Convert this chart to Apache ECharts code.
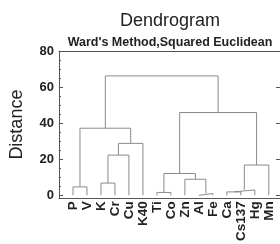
<!DOCTYPE html>
<html>
<head>
<meta charset="utf-8">
<script src="https://cdn.jsdelivr.net/npm/echarts@6/dist/echarts.min.js"></script>
<style>
  html, body { margin: 0; padding: 0; background: #fff; }
  #chart { width: 280px; height: 244px; }
</style>
</head>
<body>
<div id="chart"></div>
<script>
// leaves, left to right
const leaves = ['P', 'V', 'K', 'Cr', 'Cu', 'K40', 'Ti', 'Co', 'Zn', 'Al', 'Fe', 'Ca', 'Cs137', 'Hg', 'Mn']

// linkage: ids < 15 are leaves, 15+ are the merges below (in order)
const mergeLeft = [0, 2, 16, 17, 15, 6, 9, 8, 20, 11, 24, 25, 23, 19]
const mergeRight = [1, 3, 4, 5, 18, 7, 10, 21, 22, 12, 13, 14, 26, 27]
const mergeHeight = [4.7, 6.8, 22.3, 28.8, 37.2, 1.6, 1.05, 8.9, 12.1, 1.9, 3.0, 16.8, 45.9, 66.2]

const yTicks = [0, 20, 40, 60, 80]
const yMinorTicks = [5, 10, 15, 25, 30, 35, 45, 50, 55, 65, 70, 75]

const n = leaves.length
const nodeX = leaves.map((_, i) => i)
const nodeY = leaves.map(() => 0)

const series = []
mergeHeight.forEach((h, k) => {
  const a = mergeLeft[k]
  const b = mergeRight[k]
  series.push({
    type: 'line',
    data: [
      [nodeX[a], nodeY[a]],
      [nodeX[a], h],
      [nodeX[b], h],
      [nodeX[b], nodeY[b]]
    ],
    symbol: 'none',
    silent: true,
    lineStyle: { color: '#8a8a8a', width: 1 }
  })
  nodeX[n + k] = (nodeX[a] + nodeX[b]) / 2
  nodeY[n + k] = h
})

const chart = echarts.init(document.getElementById('chart'))

const font = 'Liberation Sans, Arial, sans-serif'
const axisColor = '#555'

chart.setOption({
  animation: false,
  textStyle: { fontFamily: font },
  title: [
    {
      text: 'Dendrogram',
      left: 165,
      top: 7,
      textAlign: 'center',
      textStyle: { fontSize: 18, fontWeight: 'normal', color: '#222' }
    },
    {
      text: "Ward's Method,Squared Euclidean",
      left: 165,
      top: 31,
      textAlign: 'center',
      textStyle: { fontSize: 12.5, fontWeight: 'bold', color: '#222' }
    }
  ],
  grid: { left: 55, right: -2, top: 51, bottom: 38 },
  xAxis: [
    {
      type: 'value',
      position: 'bottom',
      min: -1,
      max: 14.8,
      splitLine: { show: false },
      axisLine: { onZero: false, lineStyle: { color: axisColor } },
      axisTick: { show: false },
      axisLabel: {
        customValues: nodeX.slice(0, n),
        formatter: (v) => leaves[Math.round(v)] || '',
        rotate: 90,
        margin: 3,
        fontSize: 13.5,
        fontWeight: 'bold',
        color: '#222'
      }
    },
    {
      type: 'value',
      position: 'top',
      min: -1,
      max: 14.8,
      splitLine: { show: false },
      axisLine: { show: true, onZero: false, lineStyle: { color: axisColor } },
      axisTick: { show: false },
      axisLabel: { show: false }
    }
  ],
  yAxis: [
    {
      type: 'value',
      position: 'left',
      min: -1.6,
      max: 80,
      name: 'Distance',
      nameLocation: 'middle',
      nameGap: 33,
      nameTextStyle: { fontSize: 18, color: '#222' },
      splitLine: { show: false },
      axisLine: { show: true, onZero: false, lineStyle: { color: axisColor } },
      axisTick: { inside: true, length: 4, customValues: yTicks, lineStyle: { color: axisColor } },
      axisLabel: { customValues: yTicks, margin: 5, fontSize: 13, fontWeight: 'bold', color: '#222' }
    },
    {
      type: 'value',
      position: 'left',
      min: -1.6,
      max: 80,
      splitLine: { show: false },
      axisLine: { show: false, onZero: false },
      axisTick: { inside: true, length: 2, customValues: yMinorTicks, lineStyle: { color: axisColor } },
      axisLabel: { show: false }
    },
    {
      type: 'value',
      position: 'right',
      min: -1.6,
      max: 80,
      splitLine: { show: false },
      axisLine: { show: true, onZero: false, lineStyle: { color: axisColor } },
      axisTick: { inside: true, length: 4, customValues: yTicks, lineStyle: { color: axisColor } },
      axisLabel: { show: false }
    }
  ],
  series
})
</script>
</body>
</html>
